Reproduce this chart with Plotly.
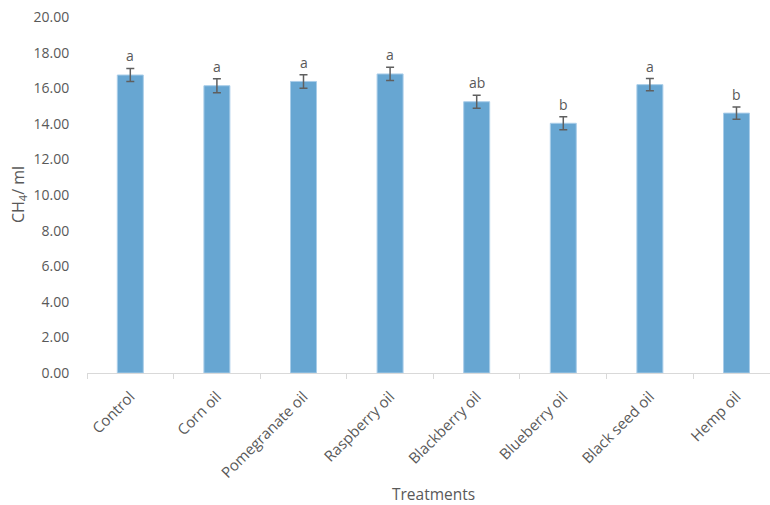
import plotly.graph_objects as go

categories = ["Control", "Corn oil", "Pomegranate oil", "Raspberry oil",
              "Blackberry oil", "Blueberry oil", "Black seed oil", "Hemp oil"]
values = [16.74, 16.14, 16.38, 16.80, 15.24, 14.03, 16.20, 14.60]
errors = [0.37, 0.39, 0.38, 0.37, 0.36, 0.37, 0.34, 0.35]
letters = ["a", "a", "a", "a", "ab", "b", "a", "b"]
yticks = [0, 2, 4, 6, 8, 10, 12, 14, 16, 18, 20]

FONT = "Open Sans"
GRAY = "#595959"

fig = go.Figure()
fig.add_trace(go.Bar(
    x=categories, y=values, width=0.30,
    marker=dict(color="#67a6d2", line=dict(color="#a9cde9", width=1)),
    error_y=dict(type="data", array=errors, visible=True,
                 color="#5f5f5f", thickness=1.5, width=4),
))

for c, v, e, t in zip(categories, values, errors, letters):
    fig.add_annotation(x=c, y=v + e, text=t, showarrow=False,
                       yanchor="bottom", yshift=1,
                       font=dict(family=FONT, size=14, color=GRAY))

fig.add_annotation(x=3.5, xref="x", y=0, yref="paper", yshift=-121,
                   text="Treatments", showarrow=False, yanchor="middle",
                   font=dict(family=FONT, size=15.5, color=GRAY))
fig.add_annotation(x=0, xref="paper", xshift=-69, y=0.5, yref="paper",
                   text="CH<sub>4</sub>/ ml", textangle=-90, showarrow=False,
                   xanchor="center", yanchor="middle",
                   font=dict(family=FONT, size=16, color=GRAY))

fig.update_layout(
    width=770, height=505,
    margin=dict(l=87, r=0, t=17, b=132),
    paper_bgcolor="white", plot_bgcolor="white",
    showlegend=False,
    font=dict(family=FONT, size=14, color=GRAY),
    xaxis=dict(
        type="category", range=[-0.5, 7.387],
        tickangle=-45, tickson="boundaries", ticks="outside", ticklen=5,
        tickcolor="#d9d9d9", showline=True, linecolor="#d9d9d9", linewidth=1,
        showgrid=False, ticklabelstandoff=8,
        tickfont=dict(family=FONT, size=15, color=GRAY),
    ),
    yaxis=dict(
        range=[0, 20], tickvals=yticks, tickformat=".2f",
        showgrid=False, zeroline=False, showline=False,
        ticks="outside", ticklen=14, tickcolor="rgba(0,0,0,0)",
        tickfont=dict(family=FONT, size=14, color=GRAY),
    ),
)

fig.write_html("out.html")
